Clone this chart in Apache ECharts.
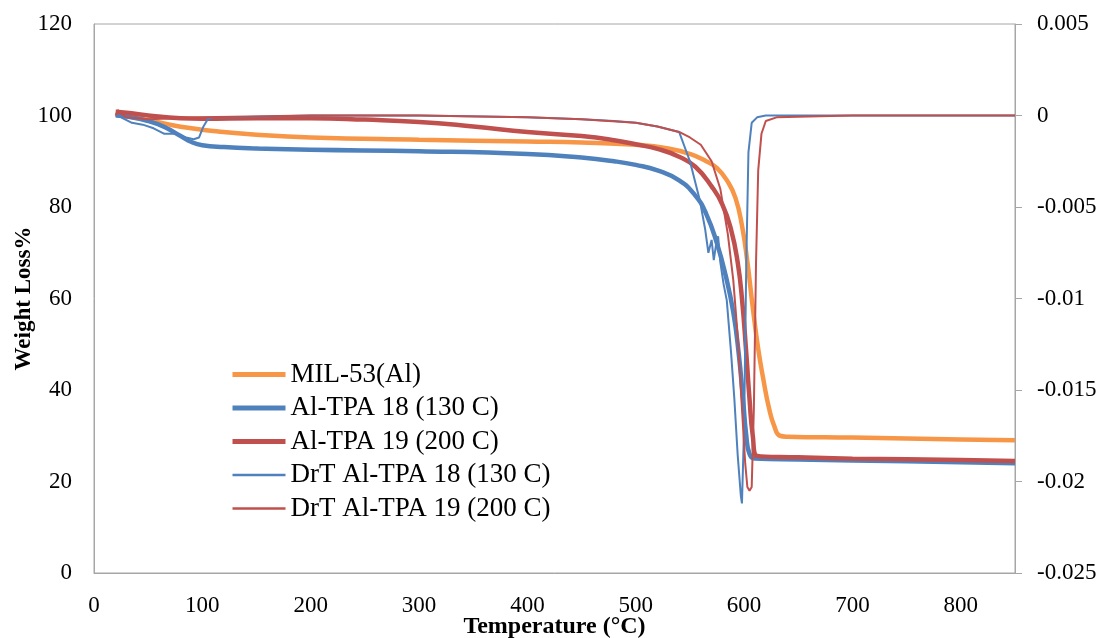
<!DOCTYPE html>
<html>
<head>
<meta charset="utf-8">
<script src="https://cdn.jsdelivr.net/npm/echarts@6/dist/echarts.min.js"></script>
<style>
  html, body { margin: 0; padding: 0; background: #fff; }
  #chart { width: 1108px; height: 638px; }
</style>
</head>
<body>
<div id="chart"></div>
<script>
// MIL-53(Al) weight loss (%)
var milTemp = [20, 30, 50, 70, 90, 110, 150, 200, 300, 400, 450, 500, 530, 550, 565, 575, 585, 592, 598, 603, 608, 613, 618, 623, 628, 633, 640, 700, 800, 850]
var milLoss = [100.2, 99.9, 99.0, 98.0, 97.2, 96.6, 95.8, 95.2, 94.7, 94.3, 94.1, 93.6, 92.8, 91.6, 90.0, 88.5, 85.5, 82, 76, 68, 58, 49, 42, 36, 32, 30, 29.8, 29.6, 29.2, 29.0]

// Al-TPA 18 (130 C) weight loss (%)
var tpa18Temp = [20, 30, 50, 65, 80, 90, 100, 120, 150, 200, 300, 400, 450, 480, 500, 520, 540, 555, 565, 575, 583, 590, 595, 599, 602, 605, 610, 650, 700, 800, 850]
var tpa18Loss = [100, 99.8, 98.8, 97.5, 95.5, 94.2, 93.5, 93.1, 92.8, 92.5, 92.2, 91.6, 90.8, 90.0, 89.2, 88.0, 85.8, 82.5, 78.5, 72, 65, 57, 48, 38, 30, 26, 25, 24.8, 24.6, 24.2, 24.0]

// Al-TPA 19 (200 C) weight loss (%)
var tpa19Temp = [20, 30, 50, 80, 100, 150, 200, 250, 300, 350, 400, 450, 480, 500, 520, 540, 555, 570, 580, 588, 594, 598, 602, 605, 608, 612, 650, 700, 800, 850]
var tpa19Loss = [100.8, 100.6, 100.0, 99.4, 99.3, 99.4, 99.4, 99.1, 98.6, 97.6, 96.4, 95.5, 94.6, 93.7, 92.7, 91.0, 88.8, 84.5, 80.5, 75, 68, 60, 48, 38, 30, 25.6, 25.3, 25.0, 24.7, 24.5]

// DrT Al-TPA 18 (130 C), right axis
var drt18Temp = [20, 25, 35, 45, 55, 65, 75, 85, 92, 97, 101, 105, 110, 130, 200, 300, 400, 450, 480, 500, 520, 540, 550, 559, 564, 567, 570, 572, 574, 576, 578, 581, 584, 588, 591, 594, 597, 598, 600, 602, 604, 607, 612, 620, 700, 800, 850]
var drt18Rate = [0, -0.0001, -0.0004, -0.0005, -0.0007, -0.001, -0.001, -0.0012, -0.0013, -0.0012, -0.0006, -0.0002, -0.0001, -0.0001, 0, 0, -0.0001, -0.0002, -0.0003, -0.0004, -0.0006, -0.0009, -0.0025, -0.0046, -0.0062, -0.0075, -0.0068, -0.0079, -0.0071, -0.0066, -0.008, -0.0092, -0.0101, -0.013, -0.0155, -0.0185, -0.0208, -0.0212, -0.017, -0.008, -0.002, -0.0004, -0.0001, 0, 0, 0, 0]

// DrT Al-TPA 19 (200 C), right axis
var drt19Temp = [20, 22, 25, 30, 50, 100, 200, 300, 400, 450, 500, 520, 540, 550, 560, 570, 578, 585, 590, 594, 598, 601, 603, 605, 607, 609, 611, 613, 616, 620, 630, 700, 800, 850]
var drt19Rate = [0, 0.0003, 0.0001, -0.0001, -0.0002, -0.0001, 0, 0, -0.0001, -0.0002, -0.0004, -0.0006, -0.0009, -0.0012, -0.0016, -0.0025, -0.004, -0.0065, -0.009, -0.012, -0.016, -0.019, -0.0203, -0.0205, -0.0203, -0.016, -0.008, -0.003, -0.001, -0.0003, -0.0001, 0, 0, 0]

function pairs(xs, ys) {
  return xs.map(function (x, i) { return [x, ys[i]] })
}

var font = 'Liberation Serif, Times New Roman, serif'
var axisColor = '#a6a6a6'

var chart = echarts.init(document.getElementById('chart'))
var option = {
  animation: false,
  color: ['#f79646', '#4f81bd', '#c0504d', '#4f81bd', '#c0504d'],
  grid: {
    left: 94,
    right: 93,
    top: 24,
    bottom: 65,
    outerBoundsMode: 'none',
    containLabel: false,
    show: true,
    borderColor: axisColor,
    borderWidth: 1
  },
  legend: {
    orient: 'vertical',
    left: 225,
    top: 356,
    itemWidth: 53,
    itemHeight: 14,
    itemGap: 6.5,
    itemStyle: { opacity: 0 },
    textStyle: { fontFamily: font, fontSize: 27, color: '#000' },
    data: [
      { name: 'MIL-53(Al)', lineStyle: { width: 5 } },
      { name: 'Al-TPA 18 (130 C)', lineStyle: { width: 5 } },
      { name: 'Al-TPA 19 (200 C)', lineStyle: { width: 5 } },
      { name: 'DrT Al-TPA 18 (130 C)', lineStyle: { width: 2.5 } },
      { name: 'DrT Al-TPA 19 (200 C)', lineStyle: { width: 2.5 } }
    ]
  },
  xAxis: {
    type: 'value',
    min: 0,
    max: 850,
    interval: 100,
    name: 'Temperature (°C)',
    nameLocation: 'middle',
    nameGap: 42,
    nameMoveOverlap: false,
    nameTextStyle: { fontFamily: font, fontSize: 24, fontWeight: 'bold', color: '#000' },
    splitLine: { show: false },
    axisLine: { lineStyle: { color: axisColor } },
    axisTick: { show: false },
    axisLabel: {
      fontFamily: font,
      fontSize: 23,
      color: '#000',
      margin: 21,
      formatter: function (v) { return v % 100 === 0 ? String(v) : '' }
    }
  },
  yAxis: [
    {
      type: 'value',
      min: 0,
      max: 120,
      interval: 20,
      name: 'Weight Loss%',
      nameLocation: 'middle',
      nameGap: 58,
      nameMoveOverlap: false,
      nameTextStyle: { fontFamily: font, fontSize: 23, fontWeight: 'bold', color: '#000' },
      splitLine: { show: false },
      axisLine: { show: true, lineStyle: { color: axisColor } },
      axisTick: { show: false },
      axisLabel: { fontFamily: font, fontSize: 23, color: '#000', margin: 22 }
    },
    {
      type: 'value',
      min: -0.025,
      max: 0.005,
      interval: 0.005,
      position: 'right',
      splitLine: { show: false },
      axisLine: { show: true, lineStyle: { color: axisColor } },
      axisTick: { show: true, length: 7, lineStyle: { color: axisColor } },
      axisLabel: {
        fontFamily: font,
        fontSize: 23,
        color: '#000',
        margin: 22,
        formatter: function (v) { return String(+v.toFixed(3)) }
      }
    }
  ],
  series: [
    {
      name: 'MIL-53(Al)',
      type: 'line',
      symbol: 'none',
      smooth: true,
      lineStyle: { width: 4.5 },
      data: pairs(milTemp, milLoss)
    },
    {
      name: 'Al-TPA 18 (130 C)',
      type: 'line',
      symbol: 'none',
      smooth: true,
      lineStyle: { width: 4.5 },
      data: pairs(tpa18Temp, tpa18Loss)
    },
    {
      name: 'Al-TPA 19 (200 C)',
      type: 'line',
      symbol: 'none',
      smooth: true,
      lineStyle: { width: 4.5 },
      data: pairs(tpa19Temp, tpa19Loss)
    },
    {
      name: 'DrT Al-TPA 18 (130 C)',
      type: 'line',
      yAxisIndex: 1,
      symbol: 'none',
      lineStyle: { width: 2 },
      data: pairs(drt18Temp, drt18Rate)
    },
    {
      name: 'DrT Al-TPA 19 (200 C)',
      type: 'line',
      yAxisIndex: 1,
      symbol: 'none',
      lineStyle: { width: 2 },
      data: pairs(drt19Temp, drt19Rate)
    }
  ]
}
chart.setOption(option)
</script>
</body>
</html>
